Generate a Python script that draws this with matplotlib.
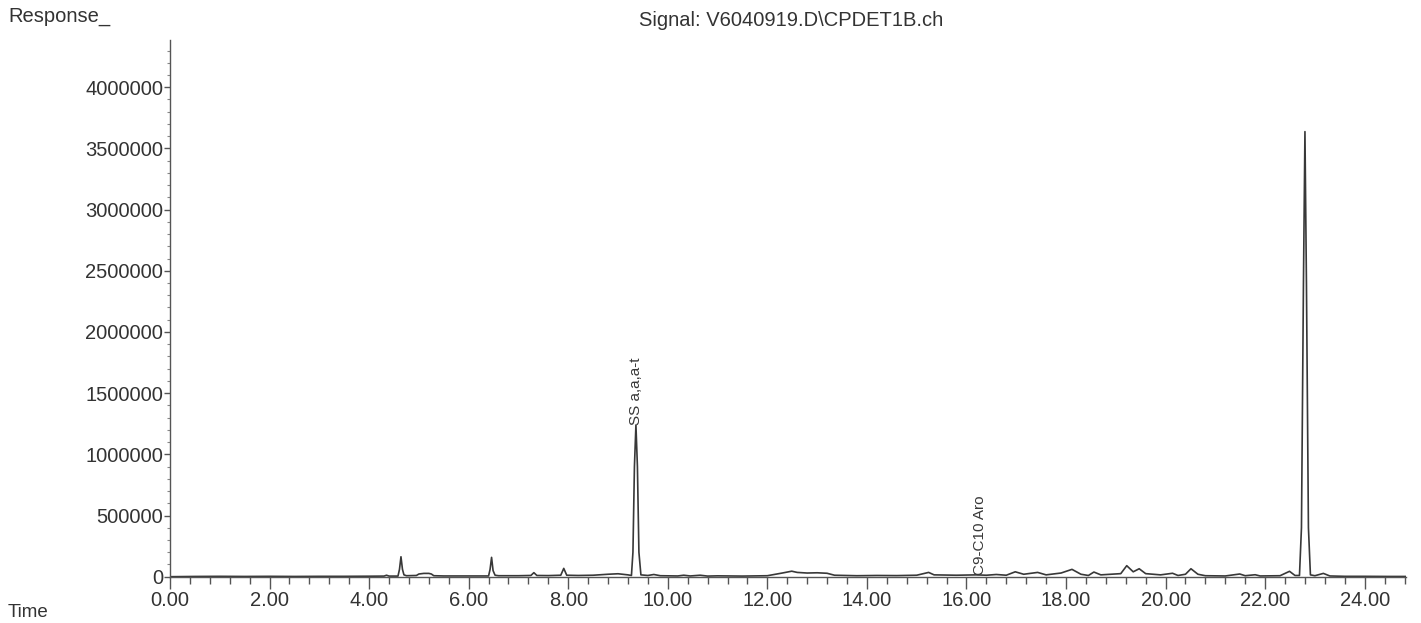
import matplotlib
matplotlib.use("Agg")
import matplotlib.pyplot as plt
from matplotlib.ticker import MultipleLocator, FuncFormatter

plt.rcParams['font.family'] = ['Liberation Sans', 'DejaVu Sans']

# trace (time in min, response in counts)
time = [0.00, 0.5, 1.0, 1.5, 2.0, 2.5, 3.0, 3.5, 4.0, 4.30, 4.35, 4.40,
        4.58, 4.61, 4.64, 4.67, 4.70, 4.75, 4.95, 5.00, 5.10, 5.20, 5.25, 5.30,
        5.5, 6.0, 6.40, 6.43, 6.46, 6.49, 6.53, 6.6, 7.0, 7.25, 7.31, 7.37,
        7.6, 7.85, 7.91, 7.97, 8.2, 8.5, 8.8, 9.0, 9.2, 9.27,
        9.30, 9.33, 9.36, 9.39, 9.42, 9.46, 9.6, 9.72, 9.85,
        10.2, 10.32, 10.45, 10.65, 10.8, 11.0, 11.5, 12.0, 12.3, 12.49, 12.6,
        12.8, 13.0, 13.2, 13.35, 13.8, 14.2, 14.6, 15.0, 15.24, 15.35, 15.8,
        16.2, 16.4, 16.6, 16.8, 16.98, 17.15, 17.43, 17.6, 17.9, 18.12, 18.3,
        18.45, 18.56, 18.7, 18.9, 19.1, 19.22, 19.35, 19.47, 19.6, 19.9,
        20.14, 20.25, 20.4, 20.51, 20.65, 20.8, 21.2, 21.49, 21.6, 21.80,
        21.9, 22.3, 22.49, 22.6, 22.69,
        22.73, 22.77, 22.80, 22.83, 22.87, 22.91,
        23.0, 23.17, 23.3, 23.6, 24.0, 24.5, 24.82]
response = [0, 2000, 3000, 2000, 3000, 2000, 3000, 3000, 4000, 5000, 12000, 5000,
            5000, 60000, 163000, 60000, 15000, 8000, 10000, 22000, 27000, 27000, 22000, 8000,
            6000, 6000, 6000, 60000, 158000, 50000, 12000, 8000, 8000, 10000, 33000, 10000,
            9000, 12000, 68000, 12000, 10000, 12000, 20000, 24000, 15000, 10000,
            200000, 900000, 1240000, 900000, 200000, 15000, 10000, 18000, 8000,
            6000, 12000, 6000, 12000, 5000, 7000, 5000, 8000, 30000, 45000, 35000,
            30000, 32000, 28000, 12000, 8000, 10000, 9000, 12000, 35000, 15000, 12000,
            15000, 12000, 18000, 12000, 40000, 20000, 35000, 15000, 30000, 60000, 20000,
            10000, 38000, 15000, 20000, 25000, 90000, 40000, 65000, 25000, 15000,
            28000, 10000, 20000, 65000, 20000, 8000, 6000, 22000, 8000, 16000,
            6000, 8000, 44000, 10000, 10000,
            400000, 2400000, 3637000, 2400000, 400000, 15000,
            8000, 27000, 6000, 3000, 3000, 2000, 2000]

peak_names = ["SS a,a,a-t", "C9-C10 Aro"]
peak_times = [9.36, 16.27]
peak_label_y = [1240000, 15000]

title = "Signal: V6040919.D\\CPDET1B.ch"

ink = '#383838'
W, H = 1421, 623
fig = plt.figure(figsize=(W / 100, H / 100), dpi=100)
ax = fig.add_axes([170 / W, (H - 576.7) / H, (1405.5 - 170) / W, (576.7 - 40) / H])

ax.plot(time, response, color=ink, lw=1.2)

for name, t, yv in zip(peak_names, peak_times, peak_label_y):
    ax.text(t, yv, name, rotation=90, ha='center', va='bottom',
            fontsize=11, color=ink)

ax.set_xlim(0, 24.82)
ax.set_ylim(0, 4.386e6)
for s in ['top', 'right']:
    ax.spines[s].set_visible(False)
for s in ['left', 'bottom']:
    ax.spines[s].set_color('#555555')
    ax.spines[s].set_linewidth(1.0)

ax.xaxis.set_major_locator(MultipleLocator(2))
ax.xaxis.set_minor_locator(MultipleLocator(0.4))
ax.yaxis.set_major_locator(MultipleLocator(500000))
ax.yaxis.set_minor_locator(MultipleLocator(100000))
ax.xaxis.set_major_formatter(FuncFormatter(lambda v, p: '%.2f' % v))
ax.yaxis.set_major_formatter(FuncFormatter(lambda v, p: '%d' % round(v)))

ax.tick_params(axis='x', which='major', length=8.5, width=1, pad=2,
               labelsize=14.5, colors='#555555', labelcolor='#333333')
ax.tick_params(axis='x', which='minor', length=5, width=1, colors='#555555')
ax.tick_params(axis='y', which='major', length=4, width=1, pad=1,
               labelsize=14.5, colors='#555555', labelcolor='#333333')
ax.tick_params(axis='y', which='minor', length=2, width=0.8, colors='#888888')

fig.text(8 / W, 1 - 17 / H, "Response_", fontsize=14.5, color='#333333',
         ha='left', va='center')
fig.text(791 / W, 1 - 21 / H, title, fontsize=14.5, color='#333333',
         ha='center', va='center')
fig.text(8 / W, 2 / H, "Time", fontsize=13.5, color='#333333',
         ha='left', va='bottom')

fig.savefig('out.png', dpi=100, facecolor='white')
